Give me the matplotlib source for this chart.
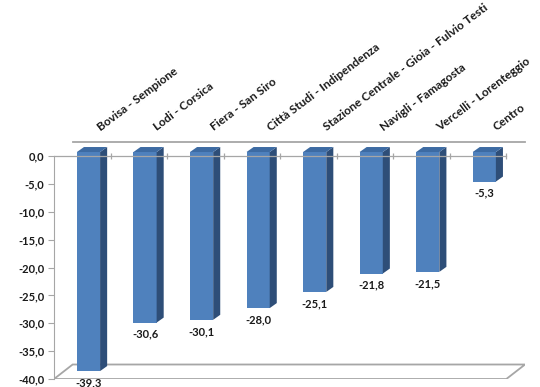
import matplotlib
matplotlib.use("Agg")
import matplotlib.pyplot as plt
from matplotlib.patches import Polygon

# dati
zone = ["Bovisa - Sempione", "Lodi - Corsica", "Fiera - San Siro",
        "Città Studi - Indipendenza", "Stazione Centrale - Gioia - Fulvio Testi",
        "Navigli - Famagosta", "Vercelli - Lorenteggio", "Centro"]
valori = [-39.3, -30.6, -30.1, -28.0, -25.1, -21.8, -21.5, -5.3]
y_ticks = [0, -5, -10, -15, -20, -25, -30, -35, -40]

FONT = ["Lato", "DejaVu Sans"]
C_FRONT = "#4F81BD"
C_SIDE = "#2E4E78"
C_TOP = "#3D6BA3"
C_GRID = "#A6A6A6"

# geometria pseudo-3D (unità dati)
DX, DY = 0.33, 2.6      # profondità del "box"
FX, FY = 0.11, 0.72     # piano frontale delle barre
BX, BY = 0.125, 0.9     # profondità delle barre
W = 0.41

fig = plt.figure(figsize=(5.4, 3.87), dpi=100)
ax = fig.add_axes([54 / 540, 8 / 387, 471 / 540, 238 / 387])
n = len(valori)
ax.set_xlim(0, n + DX)
ax.set_ylim(-40, DY + 0.1)

# pavimento e parete di fondo
floor = Polygon([(0, -40), (n, -40), (n + DX, -40 + DY), (DX, -40 + DY)],
                closed=True, facecolor="white", edgecolor=C_GRID, lw=1.3, zorder=1)
ax.add_patch(floor)
ax.plot([DX, n + DX], [DY, DY], color=C_GRID, lw=1.3, zorder=1, clip_on=False)

# barre
x0 = [i + 0.5 - W / 2 + FX for i in range(n)]
ax.bar([x + W / 2 for x in x0], valori, bottom=FY, width=W,
       color=C_FRONT, edgecolor="none", zorder=3)
for x, v in zip(x0, valori):
    side = Polygon([(x + W, FY), (x + W + BX, FY + BY), (x + W + BX, v + FY + BY), (x + W, v + FY)],
                   closed=True, facecolor=C_SIDE, edgecolor="none", zorder=3, clip_on=False)
    top = Polygon([(x, FY), (x + W, FY), (x + W + BX, FY + BY), (x + BX, FY + BY)],
                  closed=True, facecolor=C_TOP, edgecolor="none", zorder=3, clip_on=False)
    ax.add_patch(side)
    ax.add_patch(top)
    ax.text(x + W / 2, v + FY - 1.1, f"{v:.1f}".replace(".", ","), ha="center", va="top",
            fontsize=8, fontweight="bold", family=FONT, color="#1a1a1a")

# asse delle categorie a quota 0
ax.plot([0, n], [0, 0], color=C_GRID, lw=0.9, zorder=4)
ax.vlines(range(1, n + 1), -0.6, 0.6, color=C_GRID, lw=0.9, zorder=4)

# etichette categorie ruotate
for i, z in enumerate(zone):
    ax.text(i + 0.5 + DX, 4.5, z, rotation=37, rotation_mode="anchor",
            ha="left", va="baseline", fontsize=8.6, fontweight="bold", family=FONT, color="#1a1a1a")

# asse y
for s in ["top", "right", "bottom"]:
    ax.spines[s].set_visible(False)
ax.spines["left"].set_bounds(-40, 0)
ax.spines["left"].set_color(C_GRID)
ax.set_yticks(y_ticks)
ax.set_yticklabels([f"{t:.1f}".replace(".", ",") for t in y_ticks],
                   fontsize=8, fontweight="bold", family=FONT, color="#1a1a1a")
ax.tick_params(axis="y", direction="out", length=4, color=C_GRID, pad=3)
ax.set_xticks([])
ax.patch.set_visible(False)

plt.savefig("out.png", dpi=100)
